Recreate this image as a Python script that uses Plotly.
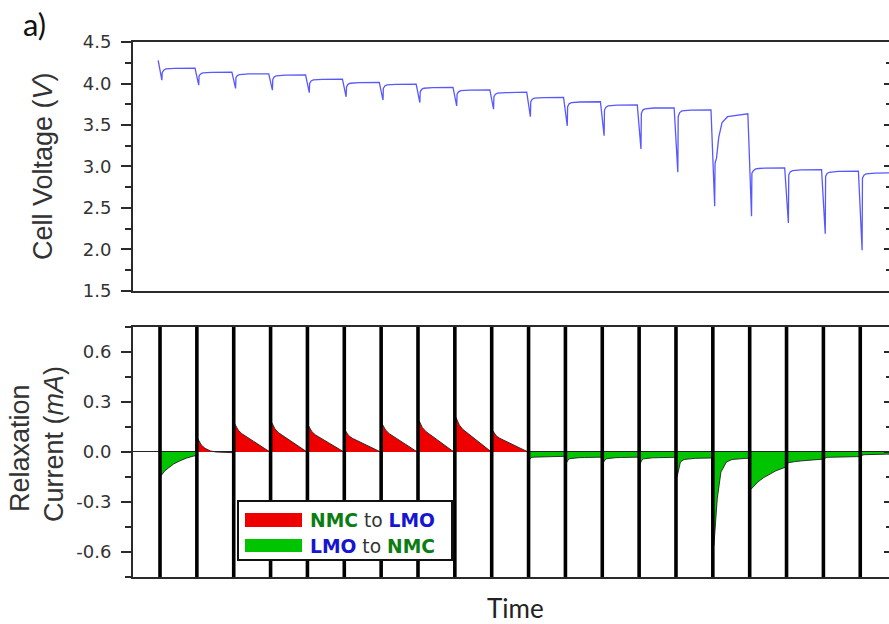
import plotly.graph_objects as go

# ---------------- data ----------------
pulse_index = list(range(20))

# voltage: time offsets (in pulse spacings) relative to each pulse, and the values
volt_dt = [-0.05, 0.05, 0.06, 0.10, 0.16, 0.25, 0.40, 0.95]
volt_segments = [
    [4.280, 4.04, 4.13, 4.160, 4.175, 4.180, 4.183, 4.185],
    [4.185, 3.98, 4.09, 4.115, 4.128, 4.133, 4.135, 4.137],
    [4.137, 3.94, 4.07, 4.095, 4.108, 4.113, 4.115, 4.117],
    [4.117, 3.92, 4.05, 4.080, 4.093, 4.098, 4.100, 4.103],
    [4.103, 3.89, 4.00, 4.030, 4.043, 4.048, 4.050, 4.053],
    [4.053, 3.84, 3.96, 3.990, 4.003, 4.008, 4.010, 4.013],
    [4.013, 3.80, 3.94, 3.970, 3.983, 3.988, 3.990, 3.993],
    [3.993, 3.77, 3.90, 3.930, 3.943, 3.948, 3.950, 3.953],
    [3.953, 3.73, 3.87, 3.900, 3.913, 3.918, 3.920, 3.923],
    [3.923, 3.69, 3.84, 3.870, 3.883, 3.888, 3.890, 3.895],
    [3.895, 3.60, 3.78, 3.810, 3.823, 3.828, 3.830, 3.833],
    [3.833, 3.49, 3.72, 3.755, 3.770, 3.775, 3.777, 3.780],
    [3.780, 3.37, 3.68, 3.715, 3.730, 3.737, 3.740, 3.742],
    [3.742, 3.21, 3.64, 3.680, 3.695, 3.700, 3.705, 3.707],
    [3.707, 2.93, 3.60, 3.650, 3.670, 3.677, 3.680, 3.683],
    [3.683, 2.52, 3.04, 3.100, 3.350, 3.530, 3.600, 3.630],
    [3.635, 2.40, 2.92, 2.950, 2.970, 2.976, 2.980, 2.983],
    [2.983, 2.32, 2.90, 2.935, 2.950, 2.956, 2.960, 2.963],
    [2.963, 2.19, 2.88, 2.915, 2.930, 2.936, 2.940, 2.943],
    [2.943, 1.99, 2.86, 2.895, 2.910, 2.916, 2.920, 2.923],
]

# relaxation current: time offsets after each pulse and values (mA)
curr_dt = [0.03, 0.07, 0.12, 0.22, 0.37, 0.52, 0.71, 0.90, 0.97]
curr_segments = [
    [-0.142, -0.130, -0.115, -0.097, -0.072, -0.055, -0.037, -0.025, -0.022],
    [0.078, 0.060, 0.042, 0.022, 0.006, 0.000, -0.003, -0.004, -0.004],
    [0.168, 0.150, 0.132, 0.110, 0.088, 0.066, 0.038, 0.010, 0.002],
    [0.178, 0.158, 0.138, 0.115, 0.092, 0.070, 0.040, 0.012, 0.003],
    [0.158, 0.140, 0.122, 0.102, 0.082, 0.062, 0.035, 0.010, 0.003],
    [0.128, 0.113, 0.098, 0.082, 0.066, 0.050, 0.028, 0.008, 0.002],
    [0.168, 0.150, 0.132, 0.110, 0.088, 0.066, 0.038, 0.010, 0.002],
    [0.188, 0.167, 0.146, 0.122, 0.097, 0.074, 0.042, 0.012, 0.003],
    [0.208, 0.185, 0.162, 0.135, 0.108, 0.082, 0.047, 0.014, 0.004],
    [0.128, 0.113, 0.098, 0.082, 0.066, 0.050, 0.028, 0.008, 0.002],
    [-0.045, -0.034, -0.031, -0.030, -0.029, -0.028, -0.027, -0.026, -0.026],
    [-0.065, -0.048, -0.040, -0.036, -0.034, -0.033, -0.032, -0.031, -0.031],
    [-0.065, -0.048, -0.040, -0.036, -0.034, -0.033, -0.032, -0.031, -0.031],
    [-0.070, -0.050, -0.041, -0.037, -0.035, -0.034, -0.033, -0.032, -0.032],
    [-0.150, -0.100, -0.060, -0.045, -0.040, -0.038, -0.037, -0.036, -0.036],
    [-0.560, -0.450, -0.280, -0.120, -0.060, -0.045, -0.040, -0.038, -0.038],
    [-0.225, -0.215, -0.200, -0.180, -0.155, -0.135, -0.113, -0.097, -0.092],
    [-0.065, -0.063, -0.061, -0.058, -0.054, -0.051, -0.047, -0.044, -0.043],
    [-0.040, -0.034, -0.032, -0.031, -0.030, -0.029, -0.028, -0.028, -0.028],
    [-0.025, -0.018, -0.016, -0.015, -0.014, -0.014, -0.013, -0.013, -0.013],
]

volt_ticks = [1.5, 2.0, 2.5, 3.0, 3.5, 4.0, 4.5]
volt_ticktext = ["1.5", "2.0", "2.5", "3.0", "3.5", "4.0", "4.5"]
curr_ticks = [-0.6, -0.3, 0.0, 0.3, 0.6]
curr_ticktext = ["-0.6", "-0.3", "0.0", "0.3", "0.6"]
legend_labels = [
    "<b><span style='color:#0b7d12'>NMC</span></b> to <b><span style='color:#1515d2'>LMO</span></b>",
    "<b><span style='color:#1515d2'>LMO</span></b> to <b><span style='color:#0b7d12'>NMC</span></b>",
]

RED = "#ee0000"
GREEN = "#00c400"
AXC = "#2a2a2a"

fig = go.Figure()

# ---------------- voltage ----------------
vx, vy = [], []
for k, seg in zip(pulse_index, volt_segments):
    for dt, v in zip(volt_dt, seg):
        vx.append(k + dt)
        vy.append(v)
fig.add_trace(go.Scatter(x=vx, y=vy, mode="lines", line=dict(color="#5858ff", width=1.3),
                         xaxis="x", yaxis="y", showlegend=False, hoverinfo="skip"))

# ---------------- relaxation current fills ----------------
for k, seg in zip(pulse_index, curr_segments):
    positive = sum(seg) > 0
    fig.add_trace(go.Scatter(
        x=[k + dt for dt in curr_dt], y=seg, mode="lines", fill="tozeroy",
        fillcolor=RED if positive else GREEN, line=dict(color="#222", width=0.9),
        xaxis="x2", yaxis="y2", showlegend=False, hoverinfo="skip"))

# pulse current (off scale) drawn as black vertical strokes
px, py = [], []
for k in pulse_index:
    px += [k, k, None]
    py += [-0.9, 0.9, None]
fig.add_trace(go.Scatter(x=px, y=py, mode="lines", line=dict(color="black", width=3.6),
                         xaxis="x2", yaxis="y2", showlegend=False, hoverinfo="skip"))

# invisible carriers for the mirrored right-hand tick axes
fig.add_trace(go.Scatter(x=[None], y=[None], xaxis="x", yaxis="y3", showlegend=False, hoverinfo="skip"))
fig.add_trace(go.Scatter(x=[None], y=[None], xaxis="x2", yaxis="y4", showlegend=False, hoverinfo="skip"))

xrange = [-0.733, 19.78]
common_x = dict(range=xrange, showticklabels=False, ticks="", showline=True, mirror=True,
                linewidth=2, linecolor=AXC, showgrid=False, zeroline=False)
tickfont = dict(family="DejaVu Sans", size=18, color="#333")


def right_axis(over, rng, tv, dt0, dt):
    return dict(overlaying=over, side="right", anchor="free", position=1.0, range=rng,
                tickvals=tv, showticklabels=False, ticks="inside", ticklen=5, tickwidth=1.5,
                tickcolor=AXC, minor=dict(dtick=dt, tick0=dt0, ticks="inside", ticklen=3,
                                          tickwidth=1.5, tickcolor=AXC),
                showline=False, showgrid=False, zeroline=False)


# manual legend (frame, swatches, labels) in plot-area fractions
def px2x(p):
    return (p - 133) / 756.0


def px2y(p):
    return (577 - p) / 535.0


shapes = [
    dict(type="rect", xref="paper", yref="paper", x0=px2x(238), x1=px2x(452), y0=px2y(560), y1=px2y(501),
         fillcolor="white", line=dict(color="#111", width=2), layer="above"),
    dict(type="rect", xref="paper", yref="paper", x0=px2x(245), x1=px2x(302), y0=px2y(527), y1=px2y(513),
         fillcolor=RED, line=dict(width=0), layer="above"),
    dict(type="rect", xref="paper", yref="paper", x0=px2x(245), x1=px2x(302), y0=px2y(552), y1=px2y(539),
         fillcolor=GREEN, line=dict(width=0), layer="above"),
]

annotations = [
    dict(text=legend_labels[0], xref="paper", yref="paper", x=px2x(308), y=px2y(520.5), xanchor="left",
         yanchor="middle", showarrow=False, font=dict(family="DejaVu Sans", size=18.7, color="#333")),
    dict(text=legend_labels[1], xref="paper", yref="paper", x=px2x(308), y=px2y(546), xanchor="left",
         yanchor="middle", showarrow=False, font=dict(family="DejaVu Sans", size=18.7, color="#333")),
    dict(text="a)", xref="paper", yref="paper", x=px2x(21), y=px2y(24), xanchor="left",
         yanchor="middle", showarrow=False, font=dict(family="Lato", size=31, color="#111")),
    dict(text="Cell Voltage (<i>V</i>)", xref="paper", yref="paper", x=px2x(43), y=px2y(166),
         textangle=-90, showarrow=False, xanchor="center", yanchor="middle",
         font=dict(family="Liberation Sans", size=27, color="#333")),
    dict(text="Relaxation", xref="paper", yref="paper", x=px2x(20), y=px2y(448),
         textangle=-90, showarrow=False, xanchor="center", yanchor="middle",
         font=dict(family="Liberation Sans", size=27, color="#333")),
    dict(text="Current (<i>mA</i>)", xref="paper", yref="paper", x=px2x(54), y=px2y(444),
         textangle=-90, showarrow=False, xanchor="center", yanchor="middle",
         font=dict(family="Liberation Sans", size=27, color="#333")),
    dict(text="Time", xref="paper", yref="paper", x=px2x(515), y=px2y(608), showarrow=False,
         xanchor="center", yanchor="middle", font=dict(family="Lato", size=26, color="#222")),
]

fig.update_layout(
    width=889, height=624,
    margin=dict(l=133, r=0, t=42, b=47),
    paper_bgcolor="white", plot_bgcolor="white",
    showlegend=False,
    xaxis=dict(domain=[0, 1], anchor="y", **common_x),
    xaxis2=dict(domain=[0, 1], anchor="y2", matches="x", **common_x),
    yaxis=dict(domain=[0.5346, 1.0], anchor="x", range=[1.5, 4.5], tickvals=volt_ticks,
               ticktext=volt_ticktext, ticks="outside", ticklen=10, tickwidth=1.5, tickcolor=AXC,
               minor=dict(dtick=0.25, tick0=1.5, ticks="outside", ticklen=6, tickwidth=1.5, tickcolor=AXC),
               showline=True, linewidth=2, linecolor=AXC, showgrid=False, zeroline=False,
               tickfont=tickfont, ticklabelstandoff=6),
    yaxis2=dict(domain=[0.0, 0.4673], anchor="x2", range=[-0.75, 0.75], tickvals=curr_ticks,
                ticktext=curr_ticktext, ticks="outside", ticklen=10, tickwidth=1.5, tickcolor=AXC,
                minor=dict(dtick=0.15, tick0=0, ticks="outside", ticklen=6, tickwidth=1.5, tickcolor=AXC),
                showline=True, linewidth=2, linecolor=AXC, showgrid=False,
                zeroline=True, zerolinecolor="#222", zerolinewidth=1.2,
                tickfont=tickfont, ticklabelstandoff=6),
    yaxis3=right_axis("y", [1.5, 4.5], volt_ticks, 1.5, 0.25),
    yaxis4=right_axis("y2", [-0.75, 0.75], curr_ticks, 0, 0.15),
    shapes=shapes,
    annotations=annotations,
)

fig.write_html("out.html")
